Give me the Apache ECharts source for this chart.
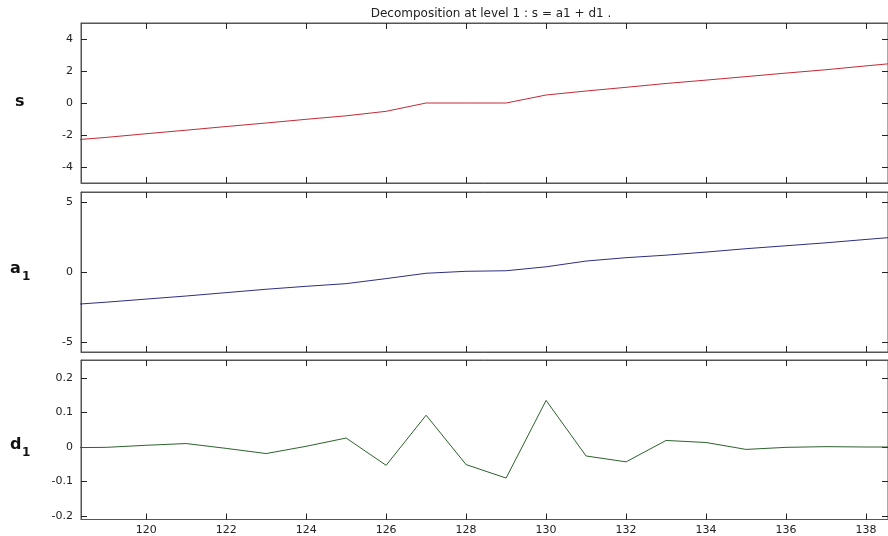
<!DOCTYPE html>
<html><head><meta charset="utf-8">
<script src="https://cdn.jsdelivr.net/npm/echarts@6/dist/echarts.min.js"></script>
<style>html,body{margin:0;padding:0;background:#fff}#c{width:888px;height:536px}</style>
</head><body><div id="c"></div>
<script>
const xValues = [118,119,120,121,122,123,124,125,126,127,128,129,130,131,132,133,134,135,136,137,138,139];
const sValues = [-2.35,-2.15,-1.92,-1.70,-1.47,-1.25,-1.02,-0.80,-0.52,0.00,0.00,0.00,0.50,0.75,0.98,1.22,1.43,1.65,1.87,2.08,2.32,2.55];
const a1Values = [-2.35,-2.15,-1.93,-1.71,-1.47,-1.23,-1.02,-0.83,-0.47,-0.09,0.05,0.09,0.37,0.78,1.02,1.20,1.42,1.66,1.87,2.08,2.32,2.55];
const d1Values = [-0.002,-0.001,0.005,0.010,-0.004,-0.019,0.002,0.026,-0.053,0.092,-0.051,-0.090,0.135,-0.026,-0.043,0.019,0.013,-0.007,-0.001,0.001,0.000,0.000];
const xTicks = [120,122,124,126,128,130,132,134,136,138];
const sTicks = [-4,-2,0,2,4];
const a1Ticks = [-5,0,5];
const d1Ticks = [-0.2,-0.1,0,0.1,0.2];
const titleText = 'Decomposition at level 1 : s = a1 + d1 .';

const X_MIN = 118.37, X_MAX = 138.55;
const panels = [
  {ticks: sTicks, min: -5, max: 5, data: sValues, color: '#c42a36', top: 23, height: 160},
  {ticks: a1Ticks, min: -5.7, max: 5.7, data: a1Values, color: '#2e2e80', top: 192, height: 160},
  {ticks: d1Ticks, min: -0.21, max: 0.252, data: d1Values, color: '#2c622c', top: 360, height: 159.5}
];
const font = 'DejaVu Sans, Liberation Sans, Arial, sans-serif';
const grids = [], xAxes = [], yAxes = [], series = [];
panels.forEach((p, i) => {
  grids.push({left: 81, right: -1, top: p.top, height: p.height, show: true, borderColor: '#555', borderWidth: 1, backgroundColor: '#fff'});
  const tick = {show: true, inside: true, length: 6, lineStyle: {color: '#222', width: 1}, customValues: xTicks};
  xAxes.push({type: 'value', gridIndex: i, position: 'bottom', min: X_MIN, max: X_MAX,
    axisLine: {show: true, onZero: false, lineStyle: {color: '#555'}}, axisTick: tick, splitLine: {show: false},
    axisLabel: {show: i === 2, customValues: xTicks, margin: 5, fontSize: 11, color: '#222', fontFamily: font}});
  xAxes.push({type: 'value', gridIndex: i, position: 'top', min: X_MIN, max: X_MAX,
    axisLine: {show: true, onZero: false, lineStyle: {color: '#555'}}, axisTick: tick, splitLine: {show: false},
    axisLabel: {show: false}});
  const ytick = {show: true, inside: true, length: 6, lineStyle: {color: '#222', width: 1}, customValues: p.ticks};
  yAxes.push({type: 'value', gridIndex: i, position: 'left', min: p.min, max: p.max,
    axisLine: {show: true, onZero: false, lineStyle: {color: '#555'}}, axisTick: ytick, splitLine: {show: false},
    axisLabel: {customValues: p.ticks, margin: 8, fontSize: 11, color: '#222', fontFamily: font}});
  yAxes.push({type: 'value', gridIndex: i, position: 'right', min: p.min, max: p.max,
    axisLine: {show: true, onZero: false, lineStyle: {color: '#555'}}, axisTick: ytick, splitLine: {show: false},
    axisLabel: {show: false}});
  series.push({type: 'line', xAxisIndex: i * 2, yAxisIndex: i * 2, showSymbol: false, animation: false,
    lineStyle: {color: p.color, width: 1}, data: xValues.map((x, k) => [x, p.data[k]]), clip: true});
});
const labelStyle = {fontFamily: 'DejaVu Sans, Arial, sans-serif', fontWeight: 'bold', fill: '#111'};
const chart = echarts.init(document.getElementById('c'), null, {renderer: 'canvas'});
chart.setOption({
  animation: false,
  title: {text: titleText, left: 486, top: 3, textAlign: 'center',
    textStyle: {fontSize: 12, fontWeight: 'normal', color: '#222', fontFamily: font}},
  grid: grids, xAxis: xAxes, yAxis: yAxes, series: series,
  graphic: [
    {type: 'text', left: 15, top: 94, style: Object.assign({text: 's', fontSize: 16}, labelStyle)},
    {type: 'text', left: 10, top: 261, style: Object.assign({text: 'a', fontSize: 16}, labelStyle)},
    {type: 'text', left: 22, top: 271, style: Object.assign({text: '1', fontSize: 12}, labelStyle)},
    {type: 'text', left: 10, top: 437, style: Object.assign({text: 'd', fontSize: 16}, labelStyle)},
    {type: 'text', left: 22, top: 447, style: Object.assign({text: '1', fontSize: 12}, labelStyle)}
  ]
});
</script></body></html>
